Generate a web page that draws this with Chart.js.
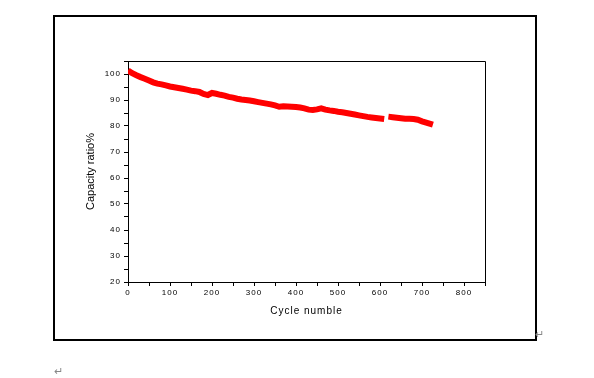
<!DOCTYPE html>
<html>
<head>
<meta charset="utf-8">
<script src="https://cdn.jsdelivr.net/npm/chart.js@4/dist/chart.umd.min.js"></script>
<style>
  html, body { margin: 0; padding: 0; background: #fff; }
  body { width: 594px; height: 378px; position: relative; overflow: hidden; font-family: "Liberation Sans", Arial, sans-serif; }
  #frame { position: absolute; left: 53px; top: 15px; width: 480px; height: 322px; border: 2px solid #000; }
  #capChart { position: absolute; left: 0; top: 0; }
  .mark { position: absolute; color: #888; font-size: 11px; }
</style>
</head>
<body>
<div id="frame"></div>
<canvas id="capChart" width="594" height="378"></canvas>
<span class="mark" style="left:535px; top:328px;">↵</span>
<span class="mark" style="left:54px; top:365px;">↵</span>
<script>
// Capacity retention vs. cycle number
const cycles = [0, 10, 20, 30, 40, 50, 60, 70, 80, 90,
    100, 110, 120, 130, 140, 150, 160, 170, 180, 190,
    200, 210, 220, 230, 240, 250, 260, 270, 280, 290,
    300, 310, 320, 330, 340, 350, 360, 370, 380, 390,
    400, 410, 420, 430, 440, 450, 460, 470, 480, 490,
    500, 510, 520, 530, 540, 550, 560, 570, 580, 590,
    600, 610, 615, 620, 630, 640, 650, 660, 670, 680,
    690, 700, 710, 720, 726];
const capacity = [101.4, 100.3, 99.5, 98.8, 98.2, 97.5, 96.8, 96.3, 96.0, 95.6,
    95.2, 94.9, 94.6, 94.3, 94.0, 93.6, 93.4, 93.1, 92.3, 91.9,
    92.7, 92.4, 92.0, 91.7, 91.2, 90.9, 90.5, 90.2, 90.0, 89.8,
    89.5, 89.2, 88.9, 88.6, 88.3, 87.9, 87.4, 87.6, 87.5, 87.4,
    87.3, 87.1, 86.8, 86.3, 86.2, 86.4, 86.8, 86.3, 86.0, 85.8,
    85.5, 85.3, 85.0, 84.7, 84.4, 84.1, 83.8, 83.5, 83.3, 83.1,
    82.9, 82.7, null, 83.6, 83.4, 83.2, 83.0, 82.8, 82.8, 82.7,
    82.4, 81.8, 81.3, 80.8, 80.5];
const xLabels = [0, 100, 200, 300, 400, 500, 600, 700, 800];
const yLabels = [20, 30, 40, 50, 60, 70, 80, 90, 100];

const points = cycles.map((c, i) => ({ x: c, y: capacity[i] }));

// box round the plot area and letter spacing like the original
const framePlugin = {
    id: 'plotFrame',
    beforeDraw(chart) {
        chart.ctx.letterSpacing = '1px';
    },
    afterDraw(chart) {
        const { ctx, chartArea: a } = chart;
        ctx.save();
        ctx.strokeStyle = '#000';
        ctx.lineWidth = 1;
        ctx.beginPath();
        ctx.moveTo(a.left, a.top + 0.5);
        ctx.lineTo(a.right + 0.5, a.top + 0.5);
        ctx.lineTo(a.right + 0.5, a.bottom);
        ctx.stroke();
        ctx.restore();
    }
};

const ctx = document.getElementById('capChart').getContext('2d');
const capChart = new Chart(ctx, {
    type: 'line',
    data: {
        datasets: [{
            data: points,
            borderColor: '#ff0000',
            backgroundColor: '#ff0000',
            borderWidth: 6,
            pointRadius: 0,
            tension: 0,
            spanGaps: false,
            borderCapStyle: 'butt'
        }]
    },
    options: {
        responsive: false,
        animation: false,
        devicePixelRatio: 1,
        layout: { padding: { left: 80, top: 61, right: 109, bottom: 57 } },
        plugins: { legend: { display: false }, tooltip: { enabled: false } },
        scales: {
            x: {
                type: 'linear',
                min: 0,
                max: 850,
                afterFit(s) { s.height = 39; },
                border: { color: '#000', width: 1 },
                grid: { drawOnChartArea: false, color: '#000', tickLength: 4 },
                ticks: {
                    stepSize: 50,
                    maxRotation: 0,
                    autoSkip: false,
                    padding: 2,
                    color: '#000',
                    font: { family: 'Liberation Sans', size: 8 },
                    callback: v => xLabels.includes(v) ? String(v) : ''
                },
                title: {
                    display: true,
                    text: 'Cycle numble',
                    color: '#000',
                    font: { family: 'Liberation Sans', size: 10 },
                    padding: { top: 6 }
                }
            },
            y: {
                type: 'linear',
                min: 20,
                max: 105,
                afterFit(s) { s.width = 48; },
                border: { color: '#000', width: 1 },
                grid: { drawOnChartArea: false, color: '#000', tickLength: 4 },
                ticks: {
                    stepSize: 5,
                    autoSkip: false,
                    padding: 3,
                    color: '#000',
                    font: { family: 'Liberation Sans', size: 8 },
                    callback: v => yLabels.includes(v) ? String(v) : ''
                },
                title: {
                    display: true,
                    text: 'Capacity ratio%',
                    color: '#000',
                    font: { family: 'Liberation Sans', size: 11 },
                    padding: { bottom: 2 }
                }
            }
        }
    },
    plugins: [framePlugin]
});

// the y title is not letter-spaced in the original
const yScale = capChart.scales.y;
const drawYTitle = yScale.drawTitle.bind(yScale);
yScale.drawTitle = function () {
    this.ctx.letterSpacing = '0px';
    drawYTitle();
    this.ctx.letterSpacing = '1px';
};
capChart.draw();
</script>
</body>
</html>
